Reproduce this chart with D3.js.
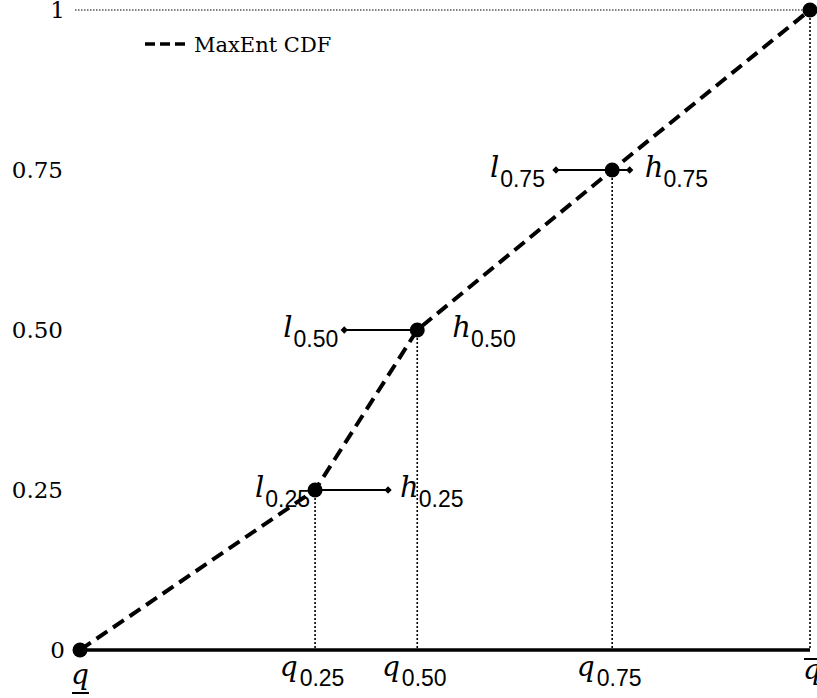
<!DOCTYPE html>
<html>
<head>
<meta charset="utf-8" />
<title>MaxEnt CDF</title>
<style>
    body { margin: 0; background: #fff; }
    .serif { font-family: 'DejaVu Serif', serif; }
    .math { font-family: 'DejaVu Serif', serif; font-style: italic; }
    .sub { font-family: 'Liberation Sans', sans-serif; font-style: normal; }
</style>
</head>
<body>
<div id="container"></div>
<script src="https://cdn.jsdelivr.net/npm/d3@7"></script>
<script>
    // quantile positions on a 0..1 support
    const qNames = ['low', '0.25', '0.50', '0.75', 'high']
    const qValues = [0, 0.322, 0.462, 0.729, 1]
    const cdfValues = [0, 0.25, 0.5, 0.75, 1]
    // elicited intervals [l, h]
    const intLabels = ['0.25', '0.50', '0.75']
    const intLevels = [0.25, 0.5, 0.75]
    const intLow = [0.322, 0.362, 0.652]
    const intHigh = [0.422, 0.462, 0.753]
    const yTicks = [0, 0.25, 0.5, 0.75, 1]
    const yTickLabels = ['0', '0.25', '0.50', '0.75', '1']

    const W = 817, H = 698
    const svg = d3.select('#container').append('svg').attr('width', W).attr('height', H)

    const x = d3.scaleLinear().domain([0, 1]).range([80, 810])
    const y = d3.scaleLinear().domain([0, 1]).range([650, 10])

    // dotted guides
    svg.append('line').attr('x1', 75).attr('x2', x(1)).attr('y1', y(1)).attr('y2', y(1))
        .attr('stroke', '#000').attr('stroke-width', 1.2).attr('stroke-dasharray', '1.5,1.5')
    qValues.slice(1).forEach((q, i) => {
        svg.append('line').attr('x1', x(q)).attr('x2', x(q)).attr('y1', y(cdfValues[i + 1])).attr('y2', y(0))
            .attr('stroke', '#000').attr('stroke-width', 1.6).attr('stroke-dasharray', '2,2')
    })

    // x axis line
    svg.append('line').attr('x1', x(0)).attr('x2', x(1)).attr('y1', y(0)).attr('y2', y(0))
        .attr('stroke', '#000').attr('stroke-width', 3.5)

    // y tick labels
    svg.selectAll('.ytick').data(yTicks).enter().append('text')
        .attr('class', 'serif')
        .attr('x', d => (d === 0 || d === 1) ? 65 : 63)
        .attr('y', d => y(d) + 8)
        .attr('text-anchor', 'end')
        .attr('font-size', 23)
        .text((d, i) => yTickLabels[i])

    // dashed CDF
    const line = d3.line().x(d => x(d[0])).y(d => y(d[1]))
    svg.append('path').datum(d3.zip(qValues, cdfValues)).attr('d', line)
        .attr('fill', 'none').attr('stroke', '#000').attr('stroke-width', 4).attr('stroke-dasharray', '13,7')

    // intervals
    const lShift = [-5, -6, -11]
    const hShift = [12, 35, 15]
    intLabels.forEach((lab, i) => {
        const yy = y(intLevels[i])
        svg.append('line').attr('x1', x(intLow[i])).attr('x2', x(intHigh[i])).attr('y1', yy).attr('y2', yy)
            .attr('stroke', '#000').attr('stroke-width', 1.8)
        ;[intLow[i], intHigh[i]].forEach(v => {
            svg.append('path').attr('d', d3.symbol(d3.symbolDiamond2, 34)())
                .attr('transform', `translate(${x(v)},${yy})`).attr('fill', '#000')
        })
        const lt = svg.append('text').attr('x', x(intLow[i]) + lShift[i]).attr('y', yy + 7)
            .attr('text-anchor', 'end').attr('class', 'math').attr('font-size', 29)
        lt.append('tspan').text('l')
        lt.append('tspan').attr('class', 'sub').attr('font-size', 23).attr('dy', 10).attr('dx', 1).text(lab)
        const ht = svg.append('text').attr('x', x(intHigh[i]) + hShift[i]).attr('y', yy + 7)
            .attr('class', 'math').attr('font-size', 29)
        ht.append('tspan').text('h')
        ht.append('tspan').attr('class', 'sub').attr('font-size', 23).attr('dy', 10).text(lab)
    })

    // points
    svg.selectAll('.pt').data(d3.zip(qValues, cdfValues)).enter().append('circle')
        .attr('cx', d => x(d[0])).attr('cy', d => y(d[1])).attr('r', 7.5).attr('fill', '#000')

    // x labels
    qNames.forEach((n, i) => {
        const t = svg.append('text').attr('class', 'math').attr('font-size', 28)
        if (n === 'low' || n === 'high') {
            const base = n === 'low' ? 684 : 679
            t.attr('x', x(qValues[i]) + (n === 'high' ? 2 : 0)).attr('y', base)
                .attr('text-anchor', 'middle').text('q')
            const bb = t.node().getBBox()
            const ly = n === 'low' ? 693 : 659
            svg.append('line').attr('x1', bb.x + 1).attr('x2', bb.x + bb.width).attr('y1', ly).attr('y2', ly)
                .attr('stroke', '#000').attr('stroke-width', 2)
        } else {
            t.attr('x', x(qValues[i]) - 3).attr('y', 676).attr('text-anchor', 'middle')
            t.append('tspan').text('q')
            t.append('tspan').attr('class', 'sub').attr('font-size', 23).attr('dy', 10).attr('dx', 2).text(n)
        }
    })

    // legend
    svg.append('line').attr('x1', 145).attr('x2', 185).attr('y1', 44).attr('y2', 44)
        .attr('stroke', '#000').attr('stroke-width', 3.5).attr('stroke-dasharray', '10,5')
    svg.append('text').attr('class', 'serif').attr('x', 194).attr('y', 52).attr('font-size', 21).text('MaxEnt CDF')
</script>
</body>
</html>
